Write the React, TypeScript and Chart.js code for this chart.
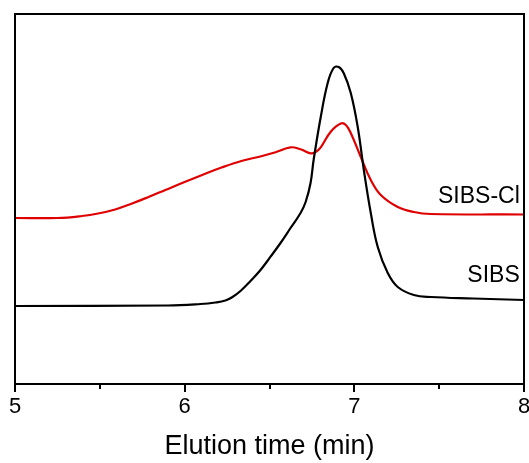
import React, { useEffect, useRef } from "react";
import { Chart, registerables } from "chart.js";

Chart.register(...registerables);

// Elution time (min)
const sibsTime = [5.0, 5.9, 6.093, 6.181, 6.24, 6.282, 6.329, 6.388, 6.447, 6.506, 6.565, 6.624, 6.683, 6.713, 6.742, 6.76, 6.802, 6.843, 6.878, 6.908, 6.937, 6.979, 7.02, 7.056, 7.097, 7.138, 7.197, 7.256, 7.351, 7.451, 7.7, 8.0];
const sibsSignal = [78, 78.5, 80, 81.5, 83.5, 87, 93, 103, 114, 127.3, 141, 156, 171, 182, 201, 224, 267, 301, 316, 317, 311, 291, 257, 214, 171, 137, 111, 97, 89, 87, 85.5, 84];

const sibsClTime = [5.0, 5.25, 5.394, 5.49, 5.59, 5.69, 5.787, 5.886, 5.985, 6.103, 6.221, 6.339, 6.457, 6.536, 6.624, 6.683, 6.742, 6.772, 6.802, 6.861, 6.92, 6.95, 6.979, 7.038, 7.097, 7.156, 7.256, 7.351, 7.451, 8.0];
const sibsClSignal = [166, 166, 168, 170.5, 174.5, 180.5, 187, 194, 201, 209, 216.7, 223.3, 228, 231.7, 236.7, 234.7, 230.7, 232, 236.7, 252.3, 260.5, 259, 251, 227, 204, 189, 177, 172, 170, 169.5];

const seriesNames = ["SIBS", "SIBS-Cl"];
const labelTime = [7.975, 7.975];
const labelSignal = [108.5, 187.5];

const xTicksMajor = [5, 6, 7, 8];
const xTicksMinor = [5.5, 6.5, 7.5];

const toPoints = (xs: number[], ys: number[]) => xs.map((x, i) => ({ x, y: ys[i] }));

const framePlugin = {
  id: "frameAndTicks",
  afterDraw(chart: any) {
    const { ctx, chartArea } = chart;
    const xs = chart.scales.x;
    const ys = chart.scales.y;
    ctx.save();
    ctx.strokeStyle = "#000";
    ctx.lineWidth = 2;
    ctx.strokeRect(chartArea.left, chartArea.top, chartArea.right - chartArea.left, chartArea.bottom - chartArea.top);
    ctx.beginPath();
    xTicksMajor.forEach((v) => {
      const px = Math.round(xs.getPixelForValue(v));
      ctx.moveTo(px, chartArea.bottom);
      ctx.lineTo(px, chartArea.bottom + 8);
    });
    xTicksMinor.forEach((v) => {
      const px = Math.round(xs.getPixelForValue(v));
      ctx.moveTo(px, chartArea.bottom);
      ctx.lineTo(px, chartArea.bottom + 5);
    });
    ctx.stroke();
    ctx.fillStyle = "#000";
    ctx.font = '23px "Liberation Sans", Arial, sans-serif';
    ctx.textAlign = "right";
    ctx.textBaseline = "middle";
    seriesNames.forEach((name, i) => {
      ctx.fillText(name, xs.getPixelForValue(labelTime[i]), ys.getPixelForValue(labelSignal[i]));
    });
    ctx.restore();
  },
};

export default function App() {
  const ref = useRef<HTMLCanvasElement | null>(null);
  useEffect(() => {
    document.body.style.margin = "0";
    if (!ref.current) return;
    const chart = new Chart(ref.current, {
      type: "line",
      data: {
        datasets: [
          {
            label: seriesNames[0],
            data: toPoints(sibsTime, sibsSignal),
            borderColor: "#000000",
            borderWidth: 2.2,
            pointRadius: 0,
            tension: 0.4,
            fill: false,
          },
          {
            label: seriesNames[1],
            data: toPoints(sibsClTime, sibsClSignal),
            borderColor: "#e00000",
            borderWidth: 2.2,
            pointRadius: 0,
            tension: 0.4,
            fill: false,
          },
        ],
      },
      options: {
        animation: false,
        responsive: false,
        maintainAspectRatio: false,
        layout: { padding: { left: 15, top: 14, right: 5, bottom: 0 } },
        plugins: { legend: { display: false }, tooltip: { enabled: false } },
        scales: {
          x: {
            type: "linear",
            min: 5,
            max: 8,
            grid: { display: false, drawTicks: false },
            border: { display: false },
            afterFit: (s: any) => {
              s.height = 79;
              s.paddingLeft = 0;
              s.paddingRight = 0;
            },
            ticks: {
              stepSize: 1,
              padding: 10,
              color: "#000",
              font: { family: '"Liberation Sans", Arial, sans-serif', size: 22 },
              maxRotation: 0,
              autoSkip: false,
            },
            title: {
              display: true,
              text: "Elution time (min)",
              color: "#000",
              font: { family: '"Liberation Sans", Arial, sans-serif', size: 27 },
              padding: { top: 6, bottom: 0 },
            },
          },
          y: {
            display: false,
            min: 0,
            max: 370,
          },
        },
      },
      plugins: [framePlugin],
    });
    return () => chart.destroy();
  }, []);
  return (
    <div style={{ position: "fixed", left: 0, top: 0, width: 529, height: 463, background: "#fff" }}>
      <canvas ref={ref} width={529} height={463} style={{ width: 529, height: 463 }} />
    </div>
  );
}
